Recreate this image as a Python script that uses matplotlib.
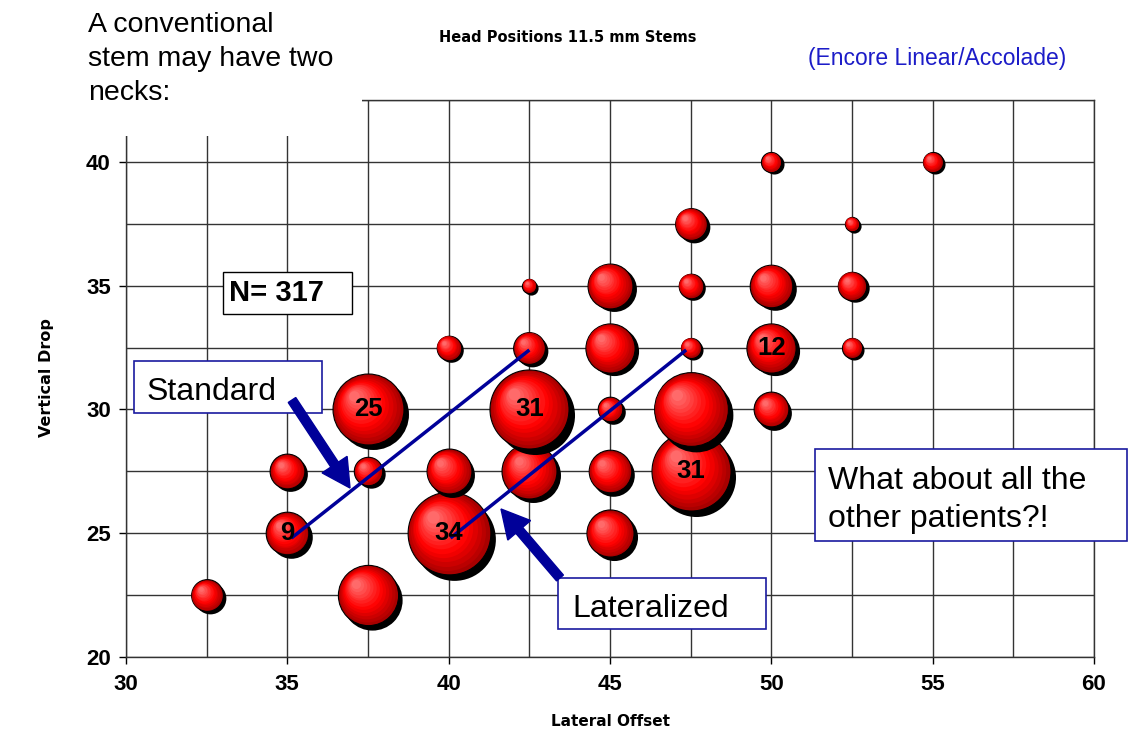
import numpy as np
import matplotlib
matplotlib.use('Agg')
import matplotlib.pyplot as plt
import matplotlib.patches as mpatches
from matplotlib.transforms import offset_copy
from matplotlib.colors import to_rgb

plt.rcParams['font.family'] = ['Liberation Sans', 'DejaVu Sans']

# head positions (mm) and number of patients at each one
lat_offset = [32.5, 37.5,
              35, 40, 45,
              35, 37.5, 40, 42.5, 45, 47.5,
              37.5, 42.5, 45, 47.5, 50,
              40, 42.5, 45, 47.5, 50, 52.5,
              42.5, 45, 47.5, 50, 52.5,
              47.5, 52.5,
              50, 55]
vert_drop = [22.5, 22.5,
             25, 25, 25,
             27.5, 27.5, 27.5, 27.5, 27.5, 27.5,
             30, 30, 30, 30, 30,
             32.5, 32.5, 32.5, 32.5, 32.5, 32.5,
             35, 35, 35, 35, 35,
             37.5, 37.5,
             40, 40]
patients = [5, 18,
            9, 34, 11,
            6, 4, 10, 15, 9, 31,
            25, 31, 3, 27, 6,
            3, 5, 12, 2, 12, 2,
            1, 10, 3, 9, 4,
            5, 1,
            2, 2]
# which bubbles carry their count as a label
labelled = [0, 0,
            1, 1, 0,
            0, 0, 0, 0, 0, 1,
            1, 1, 0, 0, 0,
            0, 0, 0, 0, 1, 0,
            0, 0, 0, 0, 0,
            0, 0,
            0, 0]

x_ticks = [30, 35, 40, 45, 50, 55, 60]
y_ticks = [20, 25, 30, 35, 40]

W, H = 1140, 737
fig = plt.figure(figsize=(W / 100, H / 100), dpi=100)
ax = fig.add_axes([0.1105, 0.1085, 0.8491, 0.7558])
ax.set_xlim(30, 60)
ax.set_ylim(20, 42.5)
ax.set_xticks(np.arange(30, 61, 2.5), minor=True)
ax.set_yticks(np.arange(20, 42.6, 2.5), minor=True)
ax.grid(True, which='both', color='#333333', lw=1.0)
ax.set_axisbelow(True)
ax.tick_params(which='major', length=5, width=1, direction='out', labelsize=16)
ax.tick_params(axis='x', pad=7)
ax.tick_params(axis='y', pad=6)
ax.tick_params(which='minor', length=0)
ax.set_xticks(x_ticks, labels=[str(v) for v in x_ticks], fontweight='bold', fontsize=16)
ax.set_yticks(y_ticks, labels=[str(v) for v in y_ticks], fontweight='bold', fontsize=16)
for sp in ax.spines.values():
    sp.set_color('#333333')
    sp.set_linewidth(1.0)

ax.set_xlabel('Lateral Offset', family='DejaVu Sans', fontweight='bold', fontsize=11)
ax.set_ylabel('Vertical Drop', family='DejaVu Sans', fontweight='bold', fontsize=11.5)
ax.xaxis.set_label_coords(0.501, -0.102)
ax.yaxis.set_label_coords(-0.0745, 0.501)

# shaded balls
dark = np.array(to_rgb('#a80000'))
red = np.array(to_rgb('#ff0000'))
light = np.array(to_rgb('#ff6a6a'))
for i, (x, y, n) in enumerate(zip(lat_offset, vert_drop, patients)):
    z = 3 + i * 0.1
    r = 5.11 * np.sqrt(n)  # radius in points
    sh = 1.0 + 0.1 * r
    tr = offset_copy(ax.transData, fig=fig, x=sh, y=-sh, units='points')
    ax.scatter([x], [y], s=(2 * r) ** 2, color='black', lw=0, transform=tr, zorder=z)
    ax.scatter([x], [y], s=(2 * r) ** 2, color=dark, edgecolor='black', lw=0.8, zorder=z + 0.001)
    for k in range(1, 13):
        t = k / 12
        f = 1 - 0.85 * t
        if t < 0.4:
            col = dark + (red - dark) * (t / 0.4)
        else:
            col = red + (light - red) * ((t - 0.4) / 0.6)
        d = (1 - f) * r * 0.45
        tr = offset_copy(ax.transData, fig=fig, x=-d, y=d, units='points')
        ax.scatter([x], [y], s=(2 * r * f) ** 2, color=col, lw=0,
                   transform=tr, zorder=z + 0.001 * (k + 1))
    if labelled[i]:
        ax.text(x, y, str(n), ha='center', va='center', fontsize=18.5,
                fontweight='bold', zorder=8)

# the two neck options
ax.plot([35.17, 42.46], [24.85, 32.36], color='#000099', lw=2.5, zorder=7)
ax.plot([40.10, 47.32], [24.85, 32.36], color='#000099', lw=2.5, zorder=7)


def fx(px):
    return px / W


def fy(py):
    return 1 - py / H


def box(l, t, r, b, ec, lw=1.2):
    rect = mpatches.Rectangle((fx(l), fy(b)), (r - l) / W, (b - t) / H,
                              transform=fig.transFigure, facecolor='white',
                              edgecolor=ec, lw=lw, zorder=5)
    fig.add_artist(rect)


# white block hiding the top-left corner of the grid
box(0, 0, 362, 136, 'none', lw=0)
fig.text(fx(88), fy(32), 'A conventional', fontsize=20.5, va='baseline', zorder=6)
fig.text(fx(88), fy(66), 'stem may have two', fontsize=20.5, va='baseline', zorder=6)
fig.text(fx(88), fy(100), 'necks:', fontsize=20.5, va='baseline', zorder=6)

fig.text(fx(568), fy(42), 'Head Positions 11.5 mm Stems', family='DejaVu Sans',
         fontweight='bold', fontsize=10.5, ha='center', va='baseline')
fig.text(fx(937), fy(65), '(Encore Linear/Accolade)', color='#1c1cc8',
         fontsize=16.5, ha='center', va='baseline')

box(223, 272, 352, 314, 'black', lw=1.0)
fig.text(fx(229), fy(301), 'N= 317', fontsize=21, fontweight='bold', va='baseline', zorder=6)

box(134, 361, 322, 413, '#1a1aa0')
fig.text(fx(147), fy(400), 'Standard', fontsize=23, va='baseline', zorder=6)

box(558, 578, 766, 629, '#1a1aa0')
fig.text(fx(572), fy(617), 'Lateralized', fontsize=23, va='baseline', zorder=6)

box(815, 449, 1127, 541, '#1a1aa0')
fig.text(fx(828), fy(489), 'What about all the', fontsize=23, va='baseline', zorder=6)
fig.text(fx(828), fy(527), 'other patients?!', fontsize=23, va='baseline', zorder=6)

# arrows (inches from bottom-left)
for x0, y0, dx, dy in [(2.92, 3.37, 0.58, -0.88), (5.60, 1.59, -0.59, 0.69)]:
    arr = mpatches.FancyArrow(x0, y0, dx, dy, width=0.09, head_width=0.30,
                              head_length=0.28, length_includes_head=True,
                              color='#000099', transform=fig.dpi_scale_trans, zorder=7)
    fig.add_artist(arr)

fig.savefig('out.png', dpi=100)
